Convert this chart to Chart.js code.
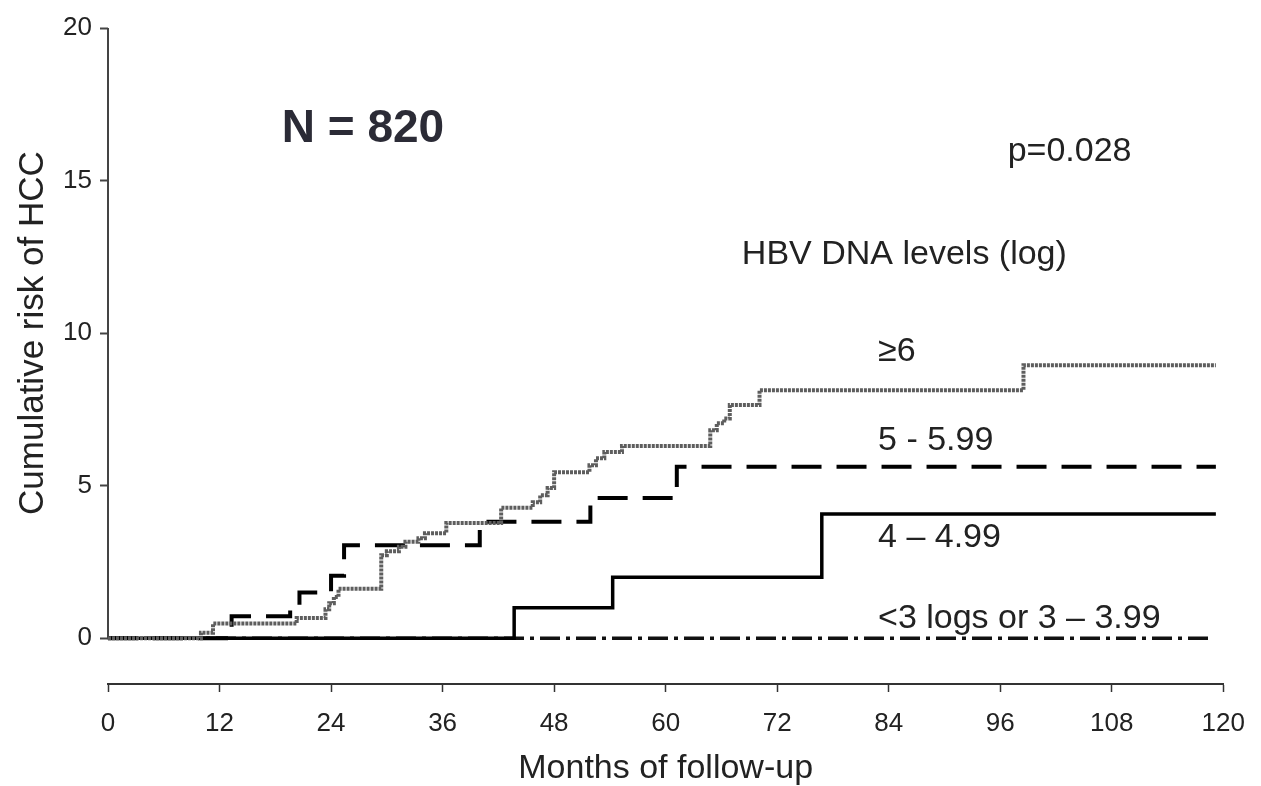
<!DOCTYPE html>
<html lang="en">
<head>
<meta charset="UTF-8">
<title>Cumulative risk of HCC by HBV DNA level</title>
<script src="https://cdn.jsdelivr.net/npm/chart.js"></script>
<style>
  body { margin: 0; background: #fff; }
  #wrap { width: 1261px; height: 786px; }
</style>
</head>
<body>
<div id="wrap"><canvas id="chart" width="1261" height="786"></canvas></div>
<script>
// Axis ticks
const monthTicks = [0, 12, 24, 36, 48, 60, 72, 84, 96, 108, 120];
const riskTicks = [0, 5, 10, 15, 20];

// Kaplan-Meier steps: month of each event and cumulative risk (%) after it
const ge6Months = [0, 10.0, 11.3, 20.3, 23.4, 23.8, 24.3, 24.8, 29.4, 30.0, 31.3, 32.0, 33.4, 34.1, 36.4,
                   42.3, 45.7, 46.5, 47.3, 48.0, 51.8, 52.5, 53.4, 55.3, 64.8, 65.5, 66.3, 66.9, 70.1, 98.5, 119.2];
const ge6Risk   = [0, 0.18, 0.48, 0.66, 0.95, 1.15, 1.35, 1.62, 2.72, 2.85, 3.0, 3.16, 3.28, 3.44, 3.78,
                   4.28, 4.46, 4.69, 4.92, 5.44, 5.67, 5.9, 6.1, 6.3, 6.82, 7.05, 7.2, 7.64, 8.13, 8.95, 8.95];

const from5Months = [0, 13.3, 19.6, 20.6, 24.0, 25.4, 40.0, 51.9, 61.2, 119.2];
const from5Risk   = [0, 0.72, 1.08, 1.5, 2.05, 3.05, 3.82, 4.6, 5.62, 5.62];

const from4Months = [0, 43.7, 54.3, 76.8, 119.2];
const from4Risk   = [0, 1.0, 2.0, 4.07, 4.07];

const below4Months = [0, 118.5];
const below4Risk   = [0, 0];

const FONT = "'Liberation Sans', Arial, Helvetica, sans-serif";
const INK = '#222';

function toPoints(xs, ys) {
    return xs.map((x, i) => ({ x: x, y: ys[i] }));
}

// text placed in data coordinates (months, risk)
const notes = [
    { text: 'N = 820', x: 18.7, y: 16.26, font: 'bold 46px ' + FONT, color: '#2b2b36' },
    { text: 'p=0.028', x: 96.8, y: 15.64, font: '34px ' + FONT, color: INK },
    { text: 'HBV DNA levels (log)', x: 68.2, y: 12.26, font: '34px ' + FONT, color: INK },
    { text: '\u22656', x: 82.85, y: 9.09, font: '34px ' + FONT, color: INK },
    { text: '5 - 5.99', x: 82.85, y: 6.17, font: '34px ' + FONT, color: INK },
    { text: '4 \u2013 4.99', x: 82.85, y: 3.0, font: '34px ' + FONT, color: INK },
    { text: '<3 logs or 3 \u2013 3.99', x: 82.85, y: 0.34, font: '34px ' + FONT, color: INK }
];

// y axis line only runs over the 0-20 range, the title is centred on it too
const yAxisLine = {
    id: 'yAxisLine',
    beforeDatasetsDraw(chart) {
        const ctx = chart.ctx;
        const y = chart.scales.y;
        const x0 = chart.chartArea.left;
        ctx.save();
        ctx.strokeStyle = '#444';
        ctx.lineWidth = 2;
        ctx.beginPath();
        ctx.moveTo(x0, y.getPixelForValue(riskTicks[riskTicks.length - 1]));
        ctx.lineTo(x0, y.getPixelForValue(0) + 1);
        ctx.stroke();
        ctx.restore();
    },
    afterDraw(chart) {
        const ctx = chart.ctx;
        const y = chart.scales.y;
        const mid = (y.getPixelForValue(0) + y.getPixelForValue(20)) / 2;
        ctx.save();
        ctx.translate(33, mid);
        ctx.rotate(-Math.PI / 2);
        ctx.font = '35px ' + FONT;
        ctx.fillStyle = INK;
        ctx.textAlign = 'center';
        ctx.textBaseline = 'middle';
        ctx.fillText('Cumulative risk of HCC', 0, 0);
        ctx.restore();
    }
};

const textNotes = {
    id: 'textNotes',
    afterDraw(chart) {
        const ctx = chart.ctx;
        const sx = chart.scales.x, sy = chart.scales.y;
        ctx.save();
        ctx.textAlign = 'left';
        ctx.textBaseline = 'alphabetic';
        notes.forEach(n => {
            ctx.font = n.font;
            ctx.fillStyle = n.color;
            ctx.fillText(n.text, sx.getPixelForValue(n.x), sy.getPixelForValue(n.y));
        });
        ctx.restore();
    }
};

const lineBase = { pointRadius: 0, stepped: true, fill: false, tension: 0, borderCapStyle: 'butt' };

new Chart(document.getElementById('chart'), {
    type: 'line',
    data: {
        datasets: [
            Object.assign({
                label: '<3 logs or 3 - 3.99',
                data: toPoints(below4Months, below4Risk),
                borderColor: '#111',
                borderWidth: 3.5,
                borderDash: [20, 6, 4, 6],
                order: 4
            }, lineBase),
            Object.assign({
                label: '4 - 4.99',
                data: toPoints(from4Months, from4Risk),
                borderColor: '#000',
                borderWidth: 3.5,
                order: 3
            }, lineBase),
            Object.assign({
                label: '5 - 5.99',
                data: toPoints(from5Months, from5Risk),
                borderColor: '#000',
                borderWidth: 4,
                borderDash: [30, 15],
                order: 2
            }, lineBase),
            Object.assign({
                label: '>=6',
                data: toPoints(ge6Months, ge6Risk),
                borderColor: '#5e5e5e',
                borderWidth: 4,
                borderDash: [3, 1],
                order: 1
            }, lineBase)
        ]
    },
    options: {
        responsive: false,
        animation: false,
        devicePixelRatio: 1,
        layout: { padding: { top: 28, right: 32, left: 0, bottom: 0 } },
        plugins: {
            legend: { display: false },
            tooltip: { enabled: false }
        },
        scales: {
            x: {
                type: 'linear',
                min: 0,
                max: 120,
                afterBuildTicks: s => { s.ticks = monthTicks.map(v => ({ value: v })); },
                afterFit: s => { s.height = 102; },
                border: { display: true, color: '#333', width: 2 },
                grid: { drawOnChartArea: false, drawTicks: true, tickLength: 8, tickColor: '#333', tickWidth: 1.5 },
                ticks: { color: INK, font: { family: FONT, size: 26 }, padding: 16, maxRotation: 0 },
                title: {
                    display: true,
                    text: 'Months of follow-up',
                    color: INK,
                    font: { family: FONT, size: 34, lineHeight: 1.0 },
                    padding: { top: 0, bottom: 0 }
                }
            },
            y: {
                type: 'linear',
                min: -1.5,
                max: 20,
                afterBuildTicks: s => { s.ticks = riskTicks.map(v => ({ value: v })); },
                afterFit: s => { s.width = 108; },
                border: { display: false },
                grid: { drawOnChartArea: false, drawTicks: true, tickLength: 8, tickColor: '#444', tickWidth: 2 },
                ticks: { color: INK, font: { family: FONT, size: 26 }, padding: 8 }
            }
        }
    },
    plugins: [yAxisLine, textNotes]
});
</script>
</body>
</html>
